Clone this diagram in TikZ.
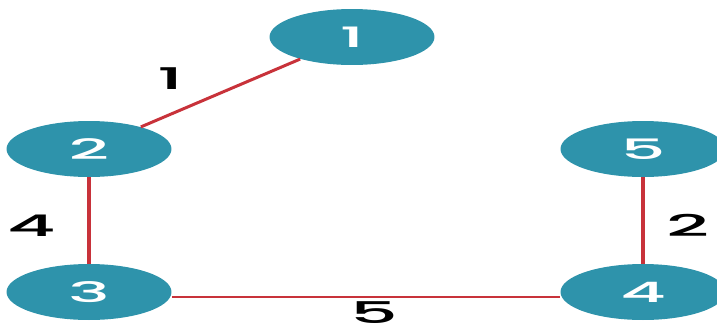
\documentclass[tikz,border=0pt]{standalone}
\usepackage{fontspec}
\setmainfont{Poppins}[BoldFont={* Medium}]
\usetikzlibrary{shapes.geometric}
\definecolor{nodeteal}{HTML}{2E93AB}
\definecolor{edgered}{HTML}{C8323A}
\newcommand{\widen}[1]{\scalebox{2.5}[1]{#1}}

\begin{document}
\begin{tikzpicture}[x=0.02cm, y=-0.02cm,
                    main node/.style={ellipse,fill=nodeteal,text=white,inner sep=0pt,
                      minimum width=3.3cm,minimum height=1.12cm,
                      font=\fontsize{16}{16}\selectfont\bfseries},
                    weight/.style={text=black,font=\fontsize{17}{17}\selectfont\bfseries}]
  \clip (0,0) rectangle (717,332);
  \node[main node] (1) at (352,37) {\widen{1}};
  \node[main node] (2) at (89,149) {\widen{2}};
  \node[main node] (3) at (89,292) {\widen{3}};
  \node[main node] (4) at (643,292) {\widen{4}};
  \node[main node] (5) at (643,149) {\widen{5}};

  \path[draw=edgered]
    (1) edge[line width=1.7pt] node[weight,xshift=-1cm,yshift=0.28cm] {\widen{1}} (2)
    (2) edge[line width=2.6pt] node[weight,xshift=-1.14cm,yshift=-0.1cm] {\widen{4}} (3)
    ([yshift=-0.1cm]3.east) edge[line width=1.1pt] node[weight,xshift=0.16cm,yshift=-0.31cm] {\widen{5}} ([yshift=-0.1cm]4.west)
    (5) edge[line width=2.6pt] node[weight,xshift=0.9cm,yshift=-0.1cm] {\widen{2}} (4);
\end{tikzpicture}
\end{document}
